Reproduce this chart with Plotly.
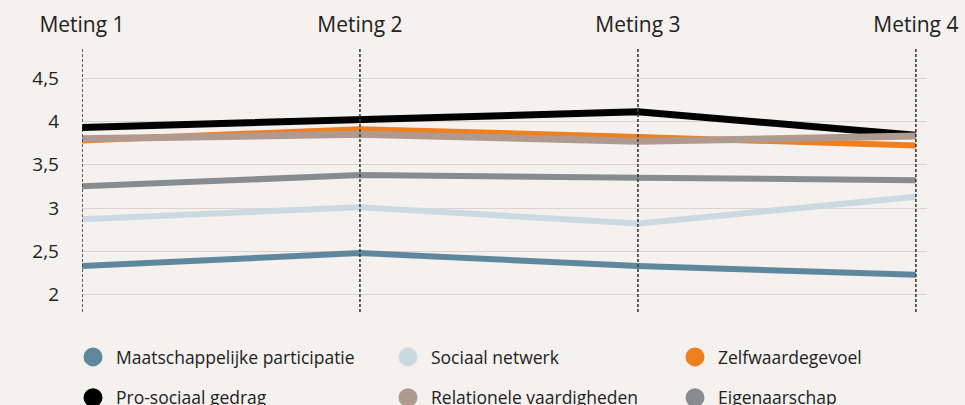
import plotly.graph_objects as go

metingen = ["Meting 1", "Meting 2", "Meting 3", "Meting 4"]
x_pos = [0, 1, 2, 3]

maatschappelijke_participatie = [2.33, 2.48, 2.33, 2.23]
sociaal_netwerk = [2.87, 3.01, 2.82, 3.13]
zelfwaardegevoel = [3.78, 3.91, 3.82, 3.72]
pro_sociaal_gedrag = [3.93, 4.02, 4.11, 3.84]
relationele_vaardigheden = [3.80, 3.85, 3.77, 3.83]
eigenaarschap = [3.25, 3.38, 3.35, 3.32]

y_ticks = [2, 2.5, 3, 3.5, 4, 4.5]

series = [
    ("Maatschappelijke participatie", maatschappelijke_participatie, "#5f879d", 6, "legend", 0),
    ("Sociaal netwerk", sociaal_netwerk, "#cbdae1", 6, "legend2", 0),
    ("Zelfwaardegevoel", zelfwaardegevoel, "#f07f1f", 6, "legend3", 0),
    ("Pro-sociaal gedrag", pro_sociaal_gedrag, "#000000", 7, "legend", 1),
    ("Relationele vaardigheden", relationele_vaardigheden, "#b09a8f", 7, "legend2", 1),
    ("Eigenaarschap", eigenaarschap, "#868d90", 6, "legend3", 1),
]

FONT = "Open Sans, Noto Sans, sans-serif"
fig = go.Figure()

for name, vals, color, w, leg, row in series:
    fig.add_trace(go.Scatter(
        x=x_pos, y=vals, mode="lines", name=name,
        line=dict(color=color, width=w), showlegend=False, hoverinfo="skip",
    ))

for name, vals, color, w, leg, row in series:
    fig.add_trace(go.Scatter(
        x=[None], y=[None], mode="markers", name=name, legend=leg,
        legendgroup=name,
        marker=dict(color=color, size=16, line=dict(color=color, width=3)),
        showlegend=True,
    ))

for xv in x_pos:
    fig.add_shape(type="line", xref="x", yref="paper", x0=xv, x1=xv, y0=0, y1=1,
                  line=dict(color="#3a3a3a", width=1.6, dash="3px,2px"), layer="above")

leg_common = dict(
    orientation="v", xref="container", yref="container", yanchor="top", xanchor="left",
    font=dict(family=FONT, size=17.5, color="#222222"), bgcolor="rgba(0,0,0,0)",
    tracegroupgap=15, itemwidth=36, borderwidth=0,
)
fig.update_layout(
    width=965, height=405,
    paper_bgcolor="#f4f1ee", plot_bgcolor="#f4f1ee",
    margin=dict(l=82, r=38, t=49, b=93, autoexpand=False),
    separators=", ",
    font=dict(family=FONT, color="#222222"),
    xaxis=dict(
        range=[0, 3.04], tickvals=x_pos, ticktext=metingen, side="top",
        showgrid=False, zeroline=False, showline=False, ticks="", tickangle=0,
        tickfont=dict(size=21, color="#222222"), ticklabelstandoff=12,
    ),
    yaxis=dict(
        range=[1.8, 4.835], tickvals=y_ticks, showgrid=True, gridcolor="#ddd2cc",
        gridwidth=1, zeroline=False, showline=False, ticks="",
        tickfont=dict(size=19, color="#222222"), ticklabelstandoff=22,
    ),
    legend=dict(x=70 / 965, y=1 - 339 / 405, **leg_common),
    legend2=dict(x=385 / 965, y=1 - 339 / 405, **leg_common),
    legend3=dict(x=672 / 965, y=1 - 339 / 405, **leg_common),
)

fig.write_html(
    "out.html",
    config={"displayModeBar": False},
    post_script="document.body.style.margin='0';document.body.style.overflow='hidden';",
)
